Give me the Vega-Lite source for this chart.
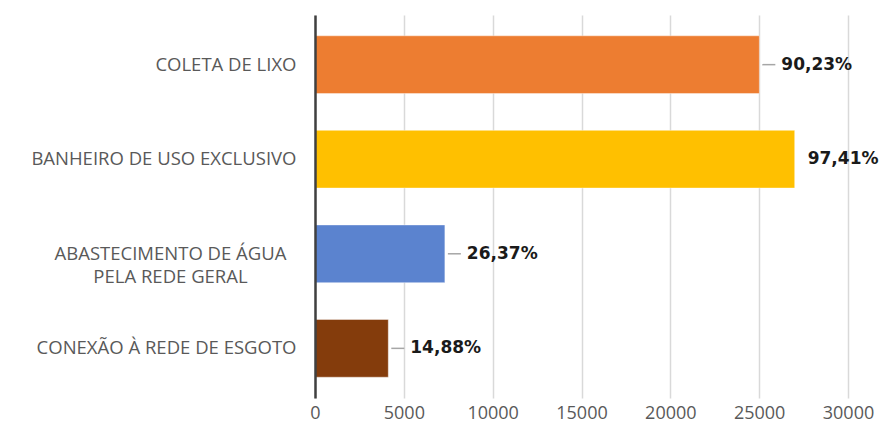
{
  "$schema": "https://vega.github.io/schema/vega-lite/v6.json",
  "autosize": "none",
  "width": 533,
  "height": 383,
  "padding": {"left": 315, "top": 15, "right": 32, "bottom": 29},
  "background": "white",
  "config": {"view": {"stroke": null}},
  "data": {
    "values": [
      {"item": "COLETA DE LIXO", "value": 25010, "pct": "90,23%", "leader": "yes"},
      {"item": "BANHEIRO DE USO EXCLUSIVO", "value": 27000, "pct": "97,41%", "leader": "no"},
      {"item": "ABASTECIMENTO DE ÁGUA PELA REDE GERAL", "value": 7310, "pct": "26,37%", "leader": "yes"},
      {"item": "CONEXÃO À REDE DE ESGOTO", "value": 4125, "pct": "14,88%", "leader": "yes"}
    ]
  },
  "encoding": {
    "y": {
      "field": "item",
      "type": "nominal",
      "sort": null,
      "scale": {"paddingInner": 0.39, "paddingOuter": 0.22},
      "axis": {
        "title": null,
        "ticks": false,
        "zindex": 1,
        "domainColor": "#404040",
        "domainWidth": 2.5,
        "labelFont": "Open Sans",
        "labelFontSize": 18.5,
        "labelColor": "#595959",
        "labelLineHeight": 23,
        "labelLimit": 400,
        "labelExpr": "datum.value == 'ABASTECIMENTO DE ÁGUA PELA REDE GERAL' ? ['ABASTECIMENTO DE ÁGUA', 'PELA REDE GERAL'] : datum.value",
        "labelAlign": {"condition": {"test": "datum.value == 'ABASTECIMENTO DE ÁGUA PELA REDE GERAL'", "value": "center"}, "value": "right"},
        "labelPadding": {"condition": {"test": "datum.value == 'ABASTECIMENTO DE ÁGUA PELA REDE GERAL'", "value": 145}, "value": 19}
      }
    }
  },
  "layer": [
    {
      "mark": {"type": "bar", "stroke": "#ffffff", "strokeOpacity": 0.4, "strokeWidth": 1},
      "encoding": {
        "x": {
          "field": "value",
          "type": "quantitative",
          "scale": {"domain": [0, 30000], "nice": false},
          "axis": {
            "title": null,
            "values": [0, 5000, 10000, 15000, 20000, 25000, 30000],
            "format": "d",
            "domain": false,
            "ticks": false,
            "grid": true,
            "gridColor": "#D9D9D9",
            "gridWidth": 1.5,
            "labelFont": "Open Sans",
            "labelFontSize": 18,
            "labelColor": "#595959",
            "labelPadding": 6,
            "labelFlush": false
          }
        },
        "color": {
          "field": "item",
          "type": "nominal",
          "legend": null,
          "scale": {
            "domain": ["COLETA DE LIXO", "BANHEIRO DE USO EXCLUSIVO", "ABASTECIMENTO DE ÁGUA PELA REDE GERAL", "CONEXÃO À REDE DE ESGOTO"],
            "range": ["#ED7D31", "#FFC000", "#5B83CF", "#843C0C"]
          }
        }
      }
    },
    {
      "transform": [{"filter": "datum.leader == 'yes'"}],
      "mark": {"type": "rule", "color": "#A6A6A6", "strokeWidth": 1.5, "xOffset": 3, "x2Offset": 16},
      "encoding": {
        "x": {"field": "value", "type": "quantitative"},
        "x2": {"field": "value"}
      }
    },
    {
      "transform": [{"filter": "datum.leader == 'yes'"}],
      "mark": {"type": "text", "align": "left", "baseline": "middle", "dx": 22, "font": "DejaVu Sans", "fontWeight": "bold", "fontSize": 17, "color": "#1a1a1a"},
      "encoding": {
        "x": {"field": "value", "type": "quantitative"},
        "text": {"field": "pct"}
      }
    },
    {
      "transform": [{"filter": "datum.leader == 'no'"}],
      "mark": {"type": "text", "align": "left", "baseline": "middle", "dx": 13, "font": "DejaVu Sans", "fontWeight": "bold", "fontSize": 17, "color": "#1a1a1a"},
      "encoding": {
        "x": {"field": "value", "type": "quantitative"},
        "text": {"field": "pct"}
      }
    }
  ]
}
